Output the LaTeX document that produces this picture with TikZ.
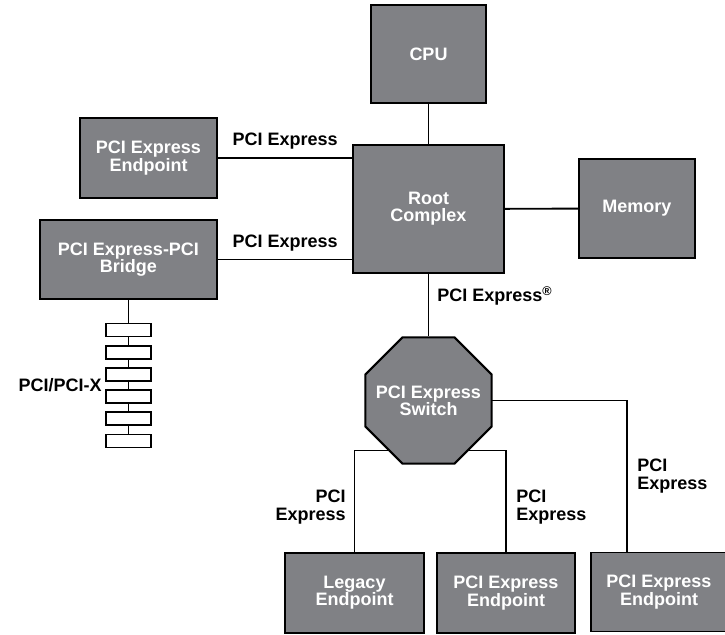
\documentclass[tikz,border=0pt]{standalone}
\usepackage{fontspec}
\setmainfont{Liberation Sans}
\usetikzlibrary{shapes.geometric}
\usetikzlibrary{calc}
\usetikzlibrary{backgrounds}
\usetikzlibrary{positioning}

\definecolor{boxgray}{RGB}{128,129,133}

\tikzset{
    unit/.style={draw=black, line width=1.4pt, fill=boxgray, text=white,
        inner sep=0pt, align=center, font=\bfseries\fontsize{12.8}{12.3}\selectfont},
    unittext/.style={text=white, inner sep=0pt, align=center,
        font=\bfseries\fontsize{12.8}{12.3}\selectfont},
    link/.style={inner sep=0pt, font=\bfseries\fontsize{12.8}{12.3}\selectfont},
    wire/.style={line width=1.35pt},
    slot/.style={draw=black, line width=1.3pt, fill=white, inner sep=0pt,
        minimum width=1.125cm, minimum height=0.325cm}
}

\begin{document}
\begin{tikzpicture}[x=0.025cm, y=-0.025cm]
        \useasboundingbox (0,0) rectangle (725,635);

        % Host side
        \node[unit, minimum width=2.875cm, minimum height=2.45cm] (cpu) at (428.5,54) {CPU};
        \node[unit, minimum width=3.75cm, minimum height=3.2cm] (root) at (428.5,209) {Root\\Complex};
        \node[unit, minimum width=2.9cm, minimum height=2.475cm] (memory) at (637,208.5) {Memory};
        \node[unit, minimum width=3.425cm, minimum height=2cm] (pcieep) at (148.5,158) {PCI Express\\Endpoint};
        \node[unit, minimum width=4.425cm, minimum height=1.975cm] (bridge) at (128.5,259.5) {PCI Express-PCI\\Bridge};

        % Switch and its endpoints
        \node[unit, regular polygon, regular polygon sides=8, minimum size=3.41cm] (switch) at (428.5,400.5) {};
        \node[unittext] (switchtext) at (switch.center) {PCI Express\\Switch};
        \node[unit, minimum width=3.475cm, minimum height=2cm] (legacy) at (354.5,593) {Legacy\\Endpoint};
        \node[unit, minimum width=3.45cm, minimum height=2cm] (swepa) at (506,593) {PCI Express\\Endpoint};
        \node[unit, minimum width=3.4cm, minimum height=1.975cm] (swepb) at (659,592) {PCI Express\\Endpoint};

        % PCI/PCI-X bus
        \foreach \i in {1,...,6} {
            \node[slot] (slot\i) at (128.5,{307.8+22.2*\i}) {};
        }
        \node[link, anchor=east] (buslabel) at (102,385) {PCI/PCI-X};

        % Links
        \begin{scope}[on background layer]
            \draw[wire] (cpu) -- (root);
            \draw[wire] (root) -- (memory);
            \draw[wire] (pcieep.east) -- (pcieep.east -| root.west)
                node[link, midway, above=0.19cm] {PCI Express};
            \draw[wire] (bridge.east) -- (bridge.east -| root.west)
                node[link, midway, above=0.19cm] {PCI Express};
            \draw[wire] (bridge) -- (slot6);
            \draw[wire] (root) -- (switch);
            \draw[wire] (legacy.north) |- ($(switch.center)+(0,50)$);
            \draw[wire] (swepa.north) |- ($(switch.center)+(0,50)$);
            \draw[wire] (switch.center) -| ($(swepb.north west)+(37,0)$);
        \end{scope}

        % Labels
        \node[link, anchor=base west] (rootlink) at (437,302) {PCI Express\textsuperscript{®}};
        \node[link, align=right, anchor=east] (leglink) at (346,507) {PCI\\Express};
        \node[link, align=left, anchor=west] (swlinka) at (516,507) {PCI\\Express};
        \node[link, align=left, anchor=west] (swlinkb) at (637,476) {PCI\\Express};

    \end{tikzpicture}
\end{document}
